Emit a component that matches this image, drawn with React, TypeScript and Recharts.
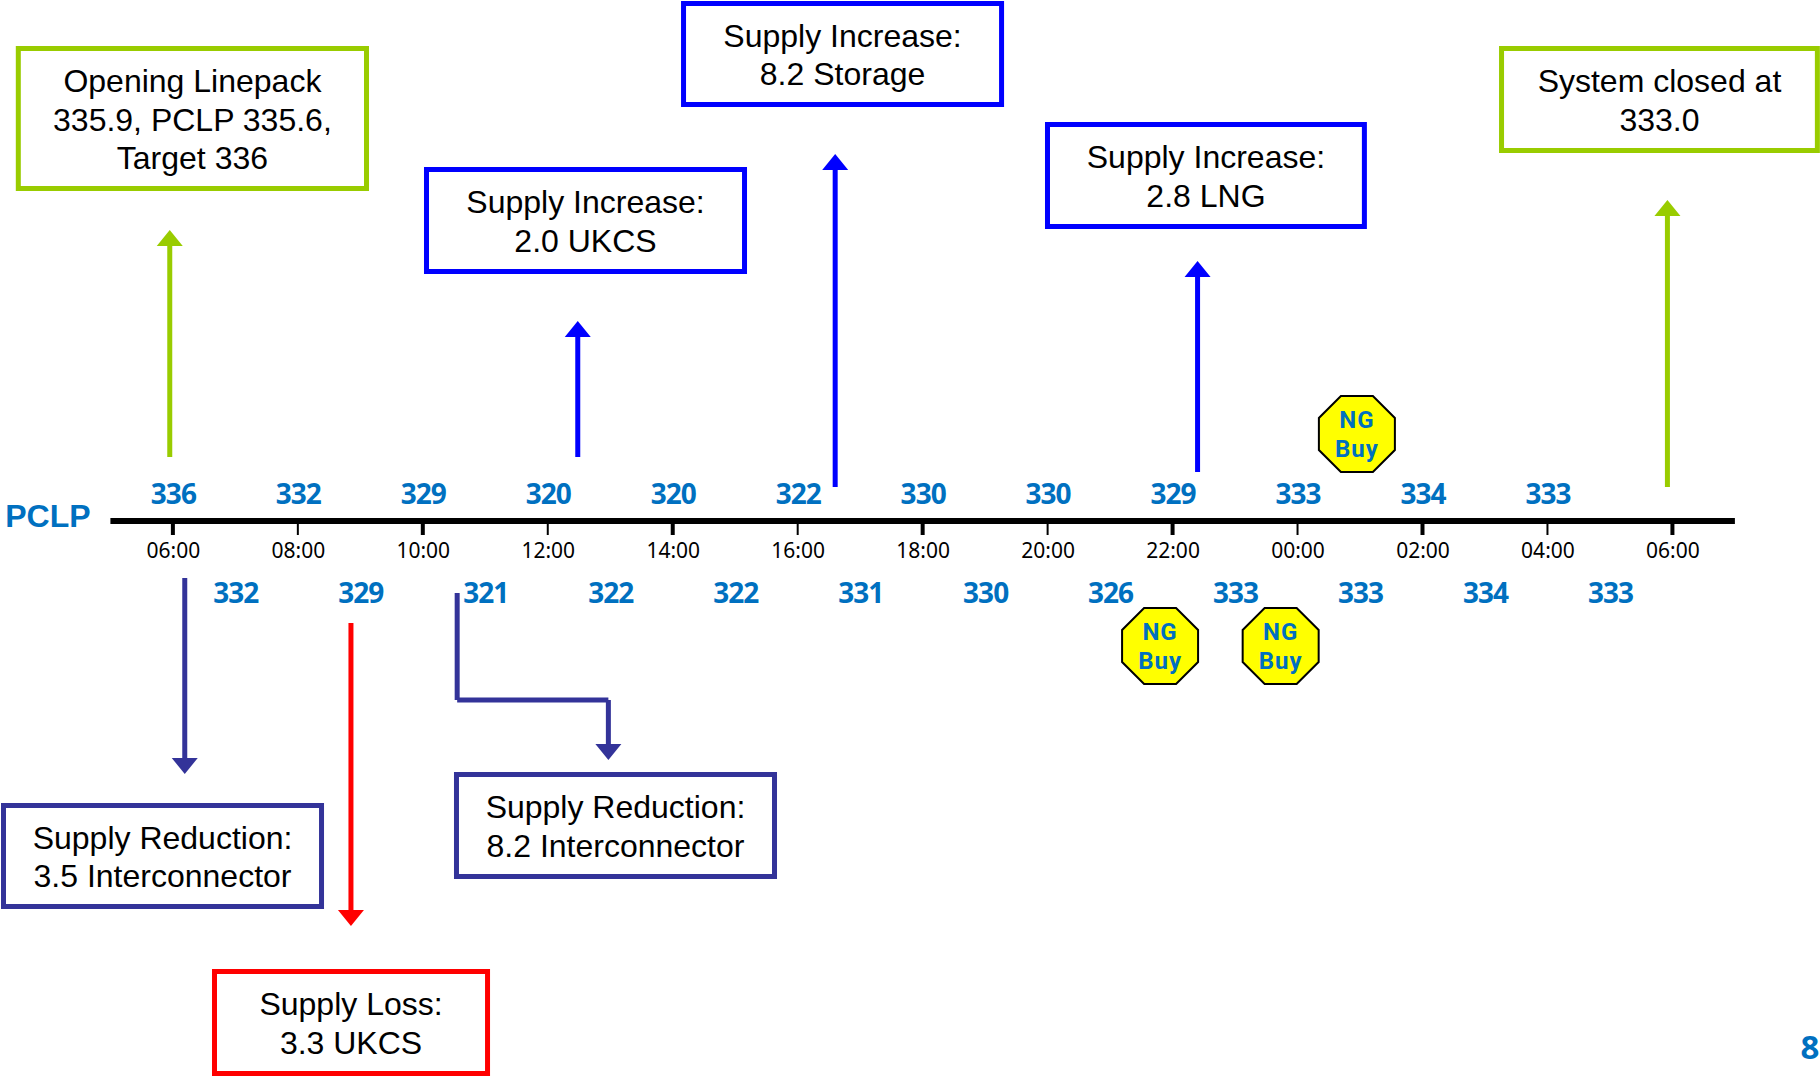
import React from 'react';
import {
  ComposedChart,
  XAxis,
  YAxis,
  Scatter,
  ReferenceLine,
  ReferenceArea,
} from 'recharts';

const BLUE = '#0000FF';
const GREEN = '#99CC00';
const NAVY = '#333399';
const RED = '#FF0000';
const LABEL_BLUE = '#0070C0';

// hours since midnight of the gas day start, 30 = 06:00 next day
const tickHours = [6, 8, 10, 12, 14, 16, 18, 20, 22, 24, 26, 28, 30];

const pclpHours = [6, 7, 8, 9, 10, 11, 12, 13, 14, 15, 16, 17, 18, 19, 20, 21, 22, 23, 24, 25, 26, 27, 28, 29];
const pclpValues = [336, 332, 332, 329, 329, 321, 320, 322, 320, 322, 322, 331, 330, 330, 330, 326, 329, 333, 333, 333, 334, 334, 333, 333];

const ngBuyHours = [24.95, 21.8, 23.73];
const ngBuyLanes = [434, 646, 646];

const boxes = [
  { x1: 3.526, x2: 9.099, y1: 48.5, y2: 188.5, color: GREEN, lines: ['Opening Linepack', '335.9, PCLP 335.6,', 'Target 336'] },
  { x1: 10.059, x2: 15.149, y1: 169.5, y2: 271.5, color: BLUE, lines: ['Supply Increase:', '2.0 UKCS'] },
  { x1: 14.173, x2: 19.263, y1: 3.5, y2: 104.5, color: BLUE, lines: ['Supply Increase:', '8.2 Storage'] },
  { x1: 19.998, x2: 25.07, y1: 124.5, y2: 226.5, color: BLUE, lines: ['Supply Increase:', '2.8 LNG'] },
  { x1: 27.265, x2: 32.32, y1: 48.5, y2: 150.5, color: GREEN, lines: ['System closed at', '333.0'] },
  { x1: 3.289, x2: 8.379, y1: 805.5, y2: 906.5, color: NAVY, lines: ['Supply Reduction:', '3.5 Interconnector'] },
  { x1: 10.539, x2: 15.629, y1: 774.5, y2: 876.5, color: NAVY, lines: ['Supply Reduction:', '8.2 Interconnector'] },
  { x1: 6.666, x2: 11.036, y1: 971.5, y2: 1073.5, color: RED, lines: ['Supply Loss:', '3.3 UKCS'] },
];

// each arrow is a path of [hour, lane] points, head at the last one
const arrows = [
  { color: GREEN, path: [[5.95, 457], [5.95, 230]] },
  { color: BLUE, path: [[12.48, 457], [12.48, 321]] },
  { color: BLUE, path: [[16.6, 487], [16.6, 154]] },
  { color: BLUE, path: [[22.4, 472], [22.4, 261]] },
  { color: GREEN, path: [[29.92, 487], [29.92, 200]] },
  { color: NAVY, path: [[6.19, 578], [6.19, 774]] },
  { color: RED, path: [[8.85, 623], [8.85, 926]] },
  { color: NAVY, path: [[10.55, 593], [10.55, 700], [12.97, 700], [12.97, 760]] },
];

const AXIS_LANE = 521;

const pclpData = pclpHours.map((hour, i) => ({
  hour,
  value: pclpValues[i],
  lane: i % 2 === 0 ? 504 : 603,
}));
const ngBuyData = ngBuyHours.map((hour, i) => ({ hour, lane: ngBuyLanes[i] }));
const boxTextData = boxes.map((b) => ({
  hour: (b.x1 + b.x2) / 2,
  lane: (b.y1 + b.y2) / 2,
  lines: b.lines,
}));
const headData = arrows.map((a) => {
  const tip = a.path[a.path.length - 1];
  const prev = a.path[a.path.length - 2];
  return { hour: tip[0], lane: tip[1], color: a.color, dir: tip[1] < prev[1] ? -1 : 1 };
});

const fmtHour = (h: number) => `${String(h % 24).padStart(2, '0')}:00`;

function TimeTick({ x, payload, index }: any) {
  return (
    <g>
      <line x1={x} x2={x} y1={AXIS_LANE + 3} y2={AXIS_LANE + 14} stroke="#000" strokeWidth={index % 2 === 0 ? 4 : 2} />
      <text x={x + 0.5} y={558} textAnchor="middle" fontFamily="'Noto Sans', sans-serif" fontSize={21} fill="#000">
        {fmtHour(payload.value)}
      </text>
    </g>
  );
}

function PclpLabel({ cx, cy, payload }: any) {
  return (
    <text x={cx + 0.5} y={cy} textAnchor="middle" fontFamily="'Noto Sans', sans-serif" fontWeight={700} fontSize={28} letterSpacing={-1} fill={LABEL_BLUE}>
      {payload.value}
    </text>
  );
}

function BoxText({ cx, cy, payload }: any) {
  const n = payload.lines.length;
  return (
    <text textAnchor="middle" fontFamily="'Liberation Sans', Arial, sans-serif" fontSize={32} fill="#000">
      {payload.lines.map((line: string, i: number) => (
        <tspan key={line} x={cx} y={cy + 12 + (i - (n - 1) / 2) * 38.3}>
          {line}
        </tspan>
      ))}
    </text>
  );
}

function ArrowHead({ cx, cy, payload }: any) {
  const d = payload.dir;
  return <polygon points={`${cx},${cy} ${cx - 13},${cy - d * 16} ${cx + 13},${cy - d * 16}`} fill={payload.color} />;
}

function NgBuy({ cx, cy }: any) {
  const r = 38;
  const c = 22;
  const pts = [
    [-r + c, -r], [r - c, -r], [r, -r + c], [r, r - c],
    [r - c, r], [-r + c, r], [-r, r - c], [-r, -r + c],
  ].map((p) => `${cx + p[0]},${cy + p[1]}`).join(' ');
  return (
    <g>
      <polygon points={pts} fill="#FFFF00" stroke="#000" strokeWidth={2} />
      <text textAnchor="middle" fontFamily="Roboto, sans-serif" fontWeight={700} fontSize={24} letterSpacing={1} fill={LABEL_BLUE}>
        <tspan x={cx} y={cy - 6}>NG</tspan>
        <tspan x={cx} y={cy + 23}>Buy</tspan>
      </text>
    </g>
  );
}

function PlainLabel({ cx, cy, payload }: any) {
  return (
    <text x={cx} y={cy} textAnchor="middle" fontFamily={payload.font} fontWeight={700} fontSize={payload.size} fill={LABEL_BLUE}>
      {payload.text}
    </text>
  );
}

const plainLabels = [
  { hour: 4.0, lane: 527, text: 'PCLP', font: "'Liberation Sans', Arial, sans-serif", size: 32 },
  { hour: 32.2, lane: 1059, text: '8', font: "'Noto Sans', sans-serif", size: 33 },
];

export default function App() {
  return (
    <div style={{ position: 'absolute', left: 0, top: 0, width: 1820, height: 1077, background: '#fff' }}>
      <ComposedChart width={1820} height={1077} margin={{ top: 0, right: 0, bottom: 0, left: 0 }}>
        <XAxis
          dataKey="hour"
          type="number"
          domain={[3.233, 32.362]}
          ticks={tickHours}
          interval={0}
          height={1}
          axisLine={false}
          tickLine={false}
          tick={TimeTick}
        />
        <YAxis dataKey="lane" type="number" domain={[0, 1076]} reversed hide />

        <ReferenceLine
          segment={[{ x: 5, y: AXIS_LANE }, { x: 31, y: AXIS_LANE }]}
          stroke="#000"
          strokeWidth={6}
        />
        {boxes.map((b) => (
          <ReferenceArea
            key={b.lines.join()}
            x1={b.x1}
            x2={b.x2}
            y1={b.y1}
            y2={b.y2}
            fill="#fff"
            fillOpacity={1}
            stroke={b.color}
            strokeWidth={5}
            ifOverflow="visible"
          />
        ))}
        {arrows.flatMap((a, i) =>
          a.path.slice(1).map((p, j) => {
            const from = a.path[j];
            const isLast = j === a.path.length - 2;
            // stop the shaft where the head starts
            const endLane = isLast ? p[1] - (p[1] < from[1] ? -14 : 14) : p[1];
            return (
              <ReferenceLine
                key={`${i}-${j}`}
                segment={[{ x: from[0], y: from[1] }, { x: p[0], y: endLane }]}
                stroke={a.color}
                strokeWidth={5}
              />
            );
          }),
        )}

        <Scatter data={boxTextData} dataKey="lane" shape={BoxText} isAnimationActive={false} />
        <Scatter data={headData} dataKey="lane" shape={ArrowHead} isAnimationActive={false} />
        <Scatter data={pclpData} dataKey="lane" shape={PclpLabel} isAnimationActive={false} />
        <Scatter data={ngBuyData} dataKey="lane" shape={NgBuy} isAnimationActive={false} />
        <Scatter data={plainLabels} dataKey="lane" shape={PlainLabel} isAnimationActive={false} />
      </ComposedChart>
    </div>
  );
}
